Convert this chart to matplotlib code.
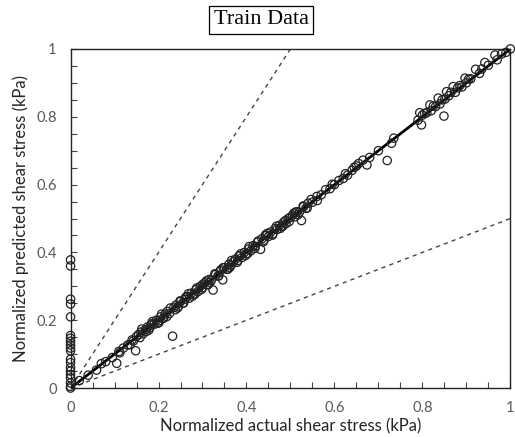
import matplotlib.pyplot as plt
from matplotlib.ticker import MultipleLocator, FuncFormatter

# points whose actual value is zero (stacked on the y axis)
zero_pred = [0.378, 0.36, 0.262, 0.248, 0.21, 0.155, 0.147, 0.138, 0.127, 0.118,
             0.11, 0.085, 0.075, 0.06, 0.05, 0.04, 0.03, 0.015, 0.005, 0.0]

actual = [
    0.02, 0.04, 0.059, 0.07, 0.08, 0.095, 0.105, 0.11, 0.12, 0.13,
    0.14, 0.148, 0.15, 0.155, 0.16, 0.165, 0.17, 0.175, 0.18, 0.185,
    0.19, 0.195, 0.2, 0.205, 0.21, 0.215, 0.22, 0.225, 0.232, 0.235,
    0.24, 0.245, 0.25, 0.255, 0.26, 0.265, 0.27, 0.275, 0.28, 0.285,
    0.29, 0.295, 0.3, 0.305, 0.31, 0.315, 0.32, 0.324, 0.33, 0.335,
    0.34, 0.346, 0.35, 0.355, 0.36, 0.365, 0.37, 0.375, 0.38, 0.385,
    0.39, 0.395, 0.4, 0.405, 0.41, 0.415, 0.42, 0.425, 0.432, 0.435,
    0.44, 0.445, 0.45, 0.455, 0.46, 0.465, 0.47, 0.475, 0.48, 0.485,
    0.49, 0.495, 0.5, 0.505, 0.51, 0.515, 0.52, 0.525, 0.53, 0.535,
    0.54, 0.55, 0.56, 0.57, 0.58, 0.59, 0.6, 0.61, 0.62, 0.63,
    0.64, 0.65, 0.655, 0.665, 0.674, 0.68, 0.7, 0.72, 0.73, 0.735,
    0.79, 0.794, 0.798, 0.8, 0.81, 0.817, 0.82, 0.83, 0.836, 0.84,
    0.849, 0.851, 0.855, 0.86, 0.87, 0.875, 0.88, 0.89, 0.897, 0.9,
    0.91, 0.921, 0.93, 0.942, 0.95, 0.965, 0.97, 0.98, 0.99, 1.0,
    0.162, 0.178, 0.186, 0.198, 0.207, 0.219, 0.227, 0.238, 0.249, 0.257,
    0.268, 0.277, 0.287, 0.298, 0.309, 0.317, 0.328, 0.337, 0.347, 0.358,
    0.366, 0.379, 0.387, 0.398, 0.406, 0.419, 0.427, 0.438, 0.447, 0.459,
    0.468, 0.477, 0.489, 0.497, 0.508, 0.517, 0.529, 0.538, 0.547, 0.561,
    0.112, 0.135, 0.143, 0.158, 0.172, 0.183, 0.201, 0.212, 0.243, 0.262,
    0.283, 0.301, 0.313, 0.342, 0.362, 0.383, 0.403, 0.443, 0.483, 0.512,
    0.595, 0.625, 0.645, 0.805, 0.825, 0.845, 0.865, 0.885, 0.905, 0.935,
]
predicted = [
    0.022, 0.038, 0.053, 0.072, 0.078, 0.09, 0.073, 0.108, 0.118, 0.127,
    0.142, 0.11, 0.152, 0.158, 0.165, 0.16, 0.172, 0.18, 0.178, 0.19,
    0.188, 0.2, 0.198, 0.21, 0.205, 0.218, 0.226, 0.22, 0.153, 0.238,
    0.245, 0.24, 0.255, 0.25, 0.262, 0.27, 0.265, 0.28, 0.276, 0.29,
    0.285, 0.3, 0.296, 0.31, 0.305, 0.32, 0.318, 0.289, 0.335, 0.33,
    0.345, 0.319, 0.355, 0.35, 0.365, 0.362, 0.372, 0.38, 0.376, 0.39,
    0.385, 0.4, 0.396, 0.41, 0.405, 0.42, 0.418, 0.43, 0.409, 0.44,
    0.436, 0.45, 0.447, 0.46, 0.455, 0.47, 0.468, 0.48, 0.476, 0.49,
    0.485, 0.5, 0.504, 0.51, 0.505, 0.52, 0.518, 0.494, 0.535, 0.53,
    0.545, 0.548, 0.565, 0.57, 0.585, 0.588, 0.6, 0.612, 0.618, 0.628,
    0.642, 0.655, 0.662, 0.672, 0.658, 0.68, 0.7, 0.671, 0.722, 0.737,
    0.79, 0.812, 0.776, 0.805, 0.812, 0.835, 0.818, 0.83, 0.855, 0.838,
    0.802, 0.852, 0.874, 0.862, 0.889, 0.872, 0.885, 0.888, 0.914, 0.9,
    0.912, 0.94, 0.928, 0.96, 0.952, 0.982, 0.968, 0.985, 0.99, 1.0,
    0.174, 0.171, 0.196, 0.191, 0.218, 0.211, 0.236, 0.231, 0.257, 0.251,
    0.278, 0.271, 0.295, 0.291, 0.316, 0.312, 0.337, 0.331, 0.355, 0.351,
    0.376, 0.371, 0.396, 0.391, 0.417, 0.412, 0.434, 0.431, 0.456, 0.451,
    0.477, 0.471, 0.494, 0.491, 0.516, 0.511, 0.537, 0.531, 0.556, 0.553,
    0.104, 0.128, 0.139, 0.149, 0.167, 0.186, 0.193, 0.207, 0.236, 0.268,
    0.277, 0.306, 0.305, 0.349, 0.356, 0.39, 0.397, 0.451, 0.478, 0.519,
    0.601, 0.632, 0.651, 0.81, 0.832, 0.85, 0.872, 0.892, 0.911, 0.941,
]

tick_font = 'Lato'

fig = plt.figure(figsize=(5.15, 4.37), dpi=100)
ax = fig.add_axes([0.137, 0.112, 0.854, 0.776])

# reference lines: 1:1, 2:1 and 1:2
ax.plot([0, 1], [0, 1], color='black', lw=2, zorder=3)
ax.plot([0, 0.5], [0, 1], color='#444444', lw=1, ls=(0, (3, 3)), zorder=2)
ax.plot([0, 1], [0, 0.5], color='#444444', lw=1, ls=(0, (3, 3)), zorder=2)

ax.scatter([0] * len(zero_pred), zero_pred, s=36, facecolors='none',
           edgecolors='#222222', linewidths=0.9, zorder=4, clip_on=False)
ax.scatter(actual, predicted, s=36, facecolors='none',
           edgecolors='#222222', linewidths=0.9, zorder=4, clip_on=False)

ax.set_xlim(0, 1)
ax.set_ylim(0, 1)
ax.xaxis.set_major_locator(MultipleLocator(0.2))
ax.yaxis.set_major_locator(MultipleLocator(0.2))
ax.xaxis.set_minor_locator(MultipleLocator(0.05))
ax.yaxis.set_minor_locator(MultipleLocator(0.05))
fmt = FuncFormatter(lambda v, p: f'{v:g}')
ax.xaxis.set_major_formatter(fmt)
ax.yaxis.set_major_formatter(fmt)
ax.tick_params(which='both', direction='in', length=4, width=0.8, color='#444444',
               labelsize=10.5, labelcolor='#595959')
ax.tick_params(axis='x', pad=9)
ax.tick_params(axis='y', pad=10)
for lbl in ax.get_xticklabels() + ax.get_yticklabels():
    lbl.set_fontfamily(tick_font)
for sp in ax.spines.values():
    sp.set_linewidth(1.0)
    sp.set_color('#222222')

ax.set_xlabel('Normalized actual shear stress (kPa)', fontsize=12, family=tick_font,
              color='#262626', labelpad=3)
ax.set_ylabel('Normalized predicted shear stress (kPa)', fontsize=12, family=tick_font,
              color='#262626', labelpad=5)

fig.text(0.507, 0.955, 'Train Data', ha='center', va='center', fontsize=16,
         family='Liberation Serif',
         bbox=dict(boxstyle='square,pad=0.2', facecolor='white', edgecolor='black', lw=0.9))

fig.savefig('out.png', dpi=100)
